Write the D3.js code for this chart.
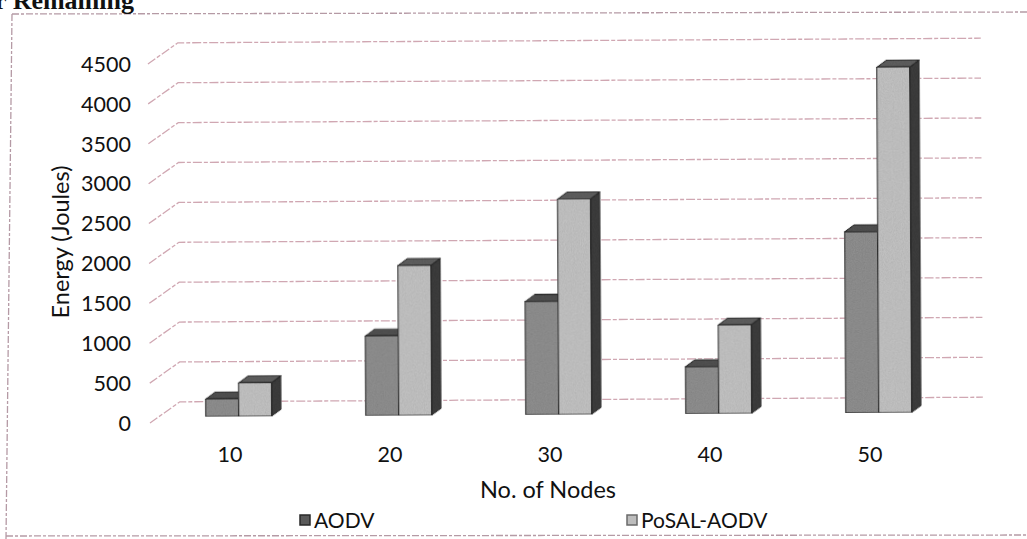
<!DOCTYPE html>
<html>
<head>
<meta charset="utf-8">
<script src="https://cdn.jsdelivr.net/npm/d3@7"></script>
<style>
  body { margin: 0; background: #fff; }
  svg text { font-family: Lato, "Open Sans", sans-serif; fill: #111; }
</style>
</head>
<body>
<div id="chart"></div>
<script>
const W = 1027, H = 539;

// data
const nodes = ["10", "20", "30", "40", "50"];
const seriesNames = ["AODV", "PoSAL-AODV"];
const aodv = [220, 1000, 1420, 590, 2270];
const posal = [420, 1880, 2700, 1110, 4330];
const yTicks = [0, 500, 1000, 1500, 2000, 2500, 3000, 3500, 4000, 4500];

const BACK = { dx: 30, dy: -21 };     // front of floor -> back wall
const BAR_F = 0.29;                    // depth where the bar front sits
const BAR_D = { dx: 9.5, dy: -7 };     // bar depth
const COLORS = {
    "AODV": { front: "#8e8e8e", top: "#505050", side: "#3a3a3a" },
    "PoSAL-AODV": { front: "#c2c2c2", top: "#5e5e5e", side: "#3c3c3c" }
};

const svg = d3.select("#chart").append("svg")
    .attr("width", W).attr("height", H);

// grain filter, to look a bit like the printed bars
const defs = svg.append("defs");
const f = defs.append("filter").attr("id", "grain")
    .attr("x", 0).attr("y", 0).attr("width", 1).attr("height", 1);
f.append("feTurbulence").attr("type", "fractalNoise")
    .attr("baseFrequency", 0.9).attr("numOctaves", 2).attr("seed", 3).attr("result", "noise");
f.append("feColorMatrix").attr("in", "noise").attr("type", "matrix")
    .attr("values", "0.33 0.33 0.33 0 0 0.33 0.33 0.33 0 0 0.33 0.33 0.33 0 0 0 0 0 0 1")
    .attr("result", "gray");
const ct = f.append("feComponentTransfer").attr("in", "gray").attr("result", "gn");
["feFuncR", "feFuncG", "feFuncB"].forEach(function (k) {
    ct.append(k).attr("type", "linear").attr("slope", 0.5).attr("intercept", 0.68);
});
f.append("feBlend").attr("in", "SourceGraphic").attr("in2", "gn").attr("mode", "multiply").attr("result", "b");
f.append("feComposite").attr("in", "b").attr("in2", "SourceGraphic").attr("operator", "in");

// outer frame (scanned, dashed)
const frame = svg.append("g")
    .attr("stroke", "#b59aa5").attr("stroke-width", 1.3)
    .attr("stroke-dasharray", "7,2,3,2").attr("fill", "none");
frame.append("line").attr("x1", 12).attr("y1", 14).attr("x2", W).attr("y2", 12);
frame.append("line").attr("x1", 12).attr("y1", 14).attr("x2", 6).attr("y2", H);
frame.append("line").attr("x1", 6).attr("y1", 536).attr("x2", W).attr("y2", 535);

// clipped heading from the page above
svg.append("text")
    .attr("x", 134).attr("y", 9)
    .attr("text-anchor", "end")
    .style("font-family", "'Liberation Serif', 'DejaVu Serif', serif")
    .style("font-weight", "bold")
    .style("font-size", "26px")
    .text("r Remaining");

// scales (front plane of the floor)
const x = d3.scaleBand().domain(nodes).range([150, 950]);
const y = d3.scaleLinear().domain([0, 4500]).range([423, 64]);
const pairW = 66;
const xSub = d3.scaleBand().domain(seriesNames).range([0, pairW]);

const plot = svg.append("g").attr("transform", "rotate(-0.33, 150, 423)");

// back wall gridlines with the slanted left-wall part
const grid = plot.append("g")
    .attr("fill", "none")
    .attr("stroke", "#d0a7b2")
    .attr("stroke-width", 1.3)
    .attr("stroke-dasharray", "9,2,4,2");
grid.selectAll("path.gl")
    .data(yTicks)
    .enter()
    .append("path")
    .attr("class", "gl")
    .attr("d", function (t) {
        const x0 = x.range()[0], y0 = y(t);
        return "M" + x0 + "," + y0 +
            "L" + (x0 + BACK.dx) + "," + (y0 + BACK.dy) +
            "L" + (x.range()[1] + BACK.dx + 3) + "," + (y0 + BACK.dy);
    });

// bars
const rows = [];
nodes.forEach(function (n, i) {
    rows.push({ node: n, s: "AODV", v: aodv[i] });
    rows.push({ node: n, s: "PoSAL-AODV", v: posal[i] });
});

const bars = plot.append("g")
    .attr("stroke", "#2a2a2a").attr("stroke-width", 1.2).attr("stroke-linejoin", "round")
    .attr("filter", "url(#grain)");

const bar = bars.selectAll("g.bar")
    .data(rows)
    .enter()
    .append("g")
    .attr("class", "bar");

function geom(d) {
    const x0 = x(d.node) + (x.bandwidth() - pairW) / 2 + xSub(d.s) + BACK.dx * BAR_F;
    const x1 = x0 + xSub.bandwidth();
    const yb = y(0) + BACK.dy * BAR_F;
    const yt = y(d.v) + BACK.dy * BAR_F;
    return { x0: x0, x1: x1, yb: yb, yt: yt };
}

bar.append("path") // side
    .attr("fill", d => COLORS[d.s].side)
    .attr("d", function (d) {
        const g = geom(d);
        return "M" + g.x1 + "," + g.yb + "L" + (g.x1 + BAR_D.dx) + "," + (g.yb + BAR_D.dy) +
            "L" + (g.x1 + BAR_D.dx) + "," + (g.yt + BAR_D.dy) + "L" + g.x1 + "," + g.yt + "Z";
    });
bar.append("path") // top
    .attr("fill", d => COLORS[d.s].top)
    .attr("d", function (d) {
        const g = geom(d);
        return "M" + g.x0 + "," + g.yt + "L" + (g.x0 + BAR_D.dx) + "," + (g.yt + BAR_D.dy) +
            "L" + (g.x1 + BAR_D.dx) + "," + (g.yt + BAR_D.dy) + "L" + g.x1 + "," + g.yt + "Z";
    });
bar.append("rect") // front
    .attr("fill", d => COLORS[d.s].front)
    .attr("x", d => geom(d).x0)
    .attr("y", d => geom(d).yt)
    .attr("width", xSub.bandwidth())
    .attr("height", d => geom(d).yb - geom(d).yt);

// y tick labels
svg.append("g").selectAll("text")
    .data(yTicks)
    .enter()
    .append("text")
    .attr("x", 131)
    .attr("y", d => y(d))
    .attr("dy", "0.36em")
    .attr("text-anchor", "end")
    .style("font-size", "21.5px")
    .text(d => d);

// x tick labels
svg.append("g").selectAll("text")
    .data(nodes)
    .enter()
    .append("text")
    .attr("x", d => x(d) + x.bandwidth() / 2)
    .attr("y", 462)
    .attr("text-anchor", "middle")
    .style("font-size", "21.5px")
    .text(d => d);

// axis titles
svg.append("text")
    .attr("transform", "translate(69,242) rotate(-90)")
    .attr("text-anchor", "middle")
    .style("font-size", "23.5px")
    .text("Energy (Joules)");
svg.append("text")
    .attr("x", 548).attr("y", 498)
    .attr("text-anchor", "middle")
    .style("font-size", "23.5px")
    .text("No. of Nodes");

// legend
const legX = { "AODV": 300, "PoSAL-AODV": 627 };
const leg = svg.append("g").selectAll("g")
    .data(seriesNames)
    .enter()
    .append("g")
    .attr("transform", d => "translate(" + legX[d] + ",520)");
leg.append("rect")
    .attr("x", 0).attr("y", -5).attr("width", 10).attr("height", 10)
    .attr("fill", d => d === "AODV" ? "#5a5a5a" : "#bdbdbd")
    .attr("stroke", d => d === "AODV" ? "#2a2a2a" : "#6a6a6a")
    .attr("stroke-width", 1.5);
leg.append("text")
    .attr("x", 14).attr("y", 8)
    .style("font-size", "21px")
    .text(d => d);
</script>
</body>
</html>
